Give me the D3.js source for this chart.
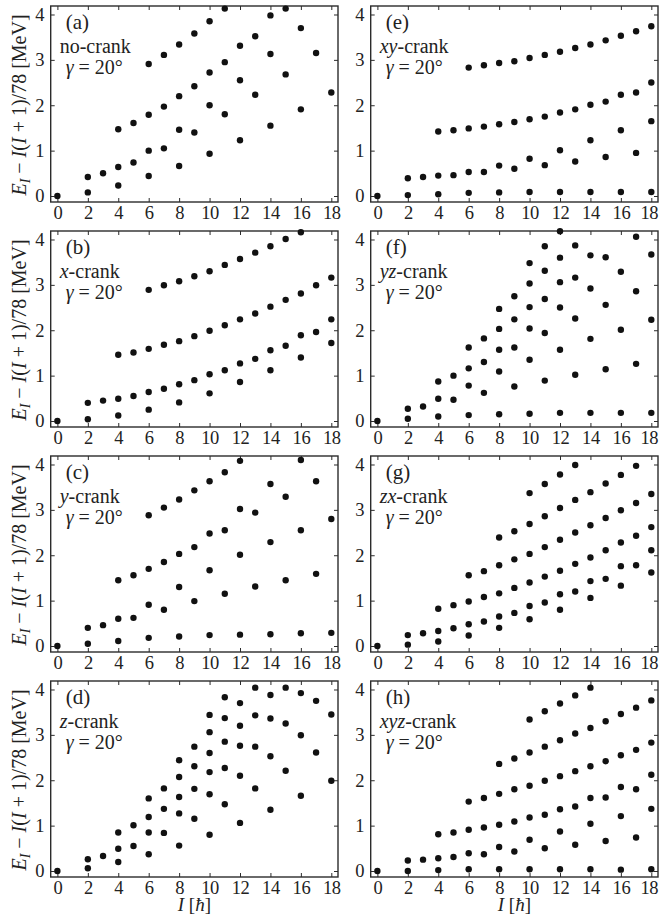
<!DOCTYPE html>
<html>
<head>
<meta charset="utf-8">
<script src="https://cdn.jsdelivr.net/npm/d3@7"></script>
<style>
  body { margin: 0; background: #fff; }
  svg text { font-family: "Liberation Serif", "Times New Roman", serif; fill: #222; }
</style>
</head>
<body>
<div id="chart"></div>
<script>
// Spin values I (there is no I = 1 state)
const spins = [0, 2, 3, 4, 5, 6, 7, 8, 9, 10, 11, 12, 13, 14, 15, 16, 17, 18];
const xTicks = [0, 2, 4, 6, 8, 10, 12, 14, 16, 18];
const yTicks = [0, 1, 2, 3, 4];

// Energies E_I - I(I+1)/78 [MeV], one list of levels per spin (same order as spins)
const noCrank = [[0], [0.42, 0.08], [0.50], [1.47, 0.64, 0.23], [1.61, 0.74],
  [2.91, 1.79, 1.00, 0.44], [3.11, 1.97, 1.05], [3.34, 2.20, 1.46, 0.66], [3.58, 2.42, 1.40],
  [3.85, 2.72, 2.00, 0.93], [4.13, 2.95, 1.80], [3.31, 2.55, 1.23], [3.52, 2.23],
  [3.98, 3.13, 1.55], [4.13, 2.68], [3.70, 1.91], [3.15], [2.28]];
const xCrank = [[0], [0.40, 0.04], [0.45], [1.46, 0.49, 0.12], [1.51, 0.55],
  [2.89, 1.59, 0.64, 0.25], [2.99, 1.68, 0.71], [3.08, 1.76, 0.81, 0.41], [3.19, 1.87, 0.90],
  [3.30, 1.99, 1.03, 0.61], [3.44, 2.11, 1.12], [3.57, 2.24, 1.27, 0.86], [3.71, 2.37, 1.37],
  [3.85, 2.52, 1.56, 1.12], [4.01, 2.67, 1.66], [4.16, 2.81, 1.89, 1.40], [2.99, 1.96],
  [3.16, 2.24, 1.72]];
const yCrank = [[0], [0.40, 0.05], [0.46], [1.45, 0.60, 0.11], [1.56, 0.62],
  [2.88, 1.70, 0.91, 0.18], [3.05, 1.85, 0.80], [3.23, 2.03, 1.30, 0.21], [3.43, 2.18, 0.99],
  [3.63, 2.48, 1.67, 0.24], [3.83, 2.55, 1.15], [4.08, 3.02, 2.01, 0.25], [2.94, 1.31],
  [3.57, 2.29, 0.26], [3.29, 1.45], [4.10, 2.55, 0.28], [3.63, 1.59], [2.80, 0.29]];
const zCrank = [[0], [0.26, 0.06], [0.33], [0.85, 0.49, 0.20], [1.01, 0.55],
  [1.60, 1.19, 0.85, 0.37], [1.82, 1.37, 0.84], [2.44, 2.07, 1.63, 1.27, 0.56],
  [2.74, 2.31, 1.81, 1.15], [3.44, 3.06, 2.60, 2.18, 1.69, 0.80], [3.83, 3.37, 2.85, 2.27, 1.47],
  [3.70, 3.20, 2.76, 2.10, 1.06], [4.04, 3.43, 2.74, 1.82], [3.88, 3.36, 2.53, 1.35],
  [4.04, 3.25, 2.21], [3.92, 2.99, 1.66], [3.75, 2.61], [3.45, 1.99]];
const xyCrank = [[0], [0.39, 0.02], [0.42], [1.42, 0.45, 0.04], [1.45, 0.46],
  [2.83, 1.49, 0.53, 0.07], [2.88, 1.53, 0.53], [2.93, 1.58, 0.67, 0.08], [2.97, 1.63, 0.60],
  [3.04, 1.69, 0.82, 0.09], [3.11, 1.75, 0.68], [3.18, 1.84, 1.01, 0.09], [3.26, 1.91, 0.76],
  [3.34, 2.01, 1.23, 0.09], [3.43, 2.08, 0.86], [3.53, 2.23, 1.45, 0.09], [3.63, 2.28, 0.95],
  [3.74, 2.50, 1.65, 0.09]];
const yzCrank = [[0], [0.27, 0.05], [0.32], [0.87, 0.49, 0.10], [1.00, 0.47],
  [1.62, 1.16, 0.78, 0.13], [1.82, 1.30, 0.62], [2.47, 2.03, 1.57, 1.09, 0.15],
  [2.75, 2.24, 1.62, 0.76], [3.48, 3.03, 2.51, 2.04, 1.35, 0.16], [3.85, 3.31, 2.69, 1.94, 0.89],
  [4.18, 3.60, 3.06, 2.50, 1.57, 0.18], [3.87, 3.16, 2.26, 1.02], [3.65, 2.92, 1.81, 0.18],
  [3.61, 2.56, 1.14], [3.29, 2.01, 0.18], [4.06, 2.86, 1.26], [3.67, 2.23, 0.18]];
const zxCrank = [[0], [0.24, 0.03], [0.28], [0.82, 0.33, 0.10], [0.90, 0.39],
  [1.56, 0.98, 0.48, 0.23], [1.65, 1.08, 0.54], [2.39, 1.78, 1.16, 0.65, 0.40],
  [2.53, 1.91, 1.28, 0.73], [3.37, 2.69, 2.03, 1.40, 0.88, 0.59], [3.57, 2.86, 2.18, 1.53, 0.96],
  [3.78, 3.04, 2.34, 1.66, 1.14, 0.80], [3.99, 3.22, 2.50, 1.81, 1.20],
  [3.39, 2.66, 1.95, 1.43, 1.06], [3.58, 2.82, 2.11, 1.48], [3.77, 2.99, 2.28, 1.76, 1.33],
  [3.97, 3.15, 2.43, 1.78], [3.35, 2.62, 2.11, 1.62]];
const xyzCrank = [[0], [0.23, 0.00], [0.25], [0.81, 0.28, 0.02], [0.85, 0.31],
  [1.53, 0.91, 0.39, 0.04], [1.61, 0.96, 0.37], [2.36, 1.70, 1.02, 0.53, 0.04],
  [2.48, 1.80, 1.09, 0.43], [3.34, 2.61, 1.88, 1.18, 0.69, 0.04], [3.52, 2.74, 1.99, 1.24, 0.50],
  [3.69, 2.88, 2.09, 1.36, 0.87, 0.04], [3.87, 3.03, 2.20, 1.42, 0.58],
  [4.04, 3.15, 2.31, 1.61, 1.04, 0.04], [3.30, 2.42, 1.62, 0.66], [3.46, 2.55, 1.85, 1.21, 0.03],
  [3.60, 2.67, 1.80, 0.74], [3.76, 2.83, 2.12, 1.37, 0.04]];

const panelLetters = ["a", "b", "c", "d", "e", "f", "g", "h"];
const crankAxes = ["", "x", "y", "z", "xy", "yz", "zx", "xyz"];
const panelData = [noCrank, xCrank, yCrank, zCrank, xyCrank, yzCrank, zxCrank, xyzCrank];
const gammaDeg = 20;

//******************************************************************************************** */
// Layout
const width = 659;
const height = 920;
const panelW = 287.3;
const panelH = 196;
const colLeft = [50.7, 370.7];
const rowTop = [6, 231, 456, 681];

const svg = d3.select("#chart")
  .append("svg")
  .attr("width", width)
  .attr("height", height);

const x = d3.scaleLinear().domain([-0.44, 18.44]).range([0, panelW]);
const y = d3.scaleLinear().domain([-0.132, 4.187]).range([panelH, 0]);

const ink = "#2b2b2b";
const intFmt = d3.format("d");

panelData.forEach((levels, i) => {
  const col = i < 4 ? 0 : 1;
  const row = i % 4;
  const g = svg.append("g")
    .attr("transform", `translate(${colLeft[col]},${rowTop[row]})`);

  // inward ticks, labels on bottom and left only
  const bottom = g.append("g")
    .attr("transform", `translate(0,${panelH})`)
    .call(d3.axisBottom(x).tickValues(xTicks).tickFormat(intFmt)
      .tickSizeInner(-4).tickSizeOuter(0).tickPadding(4));
  const left = g.append("g")
    .call(d3.axisLeft(y).tickValues(yTicks).tickFormat(intFmt)
      .tickSizeInner(-4).tickSizeOuter(0).tickPadding(6.5));
  const top = g.append("g")
    .call(d3.axisTop(x).tickValues(xTicks).tickSizeInner(-4).tickSizeOuter(0).tickFormat(""));
  const right = g.append("g")
    .attr("transform", `translate(${panelW},0)`)
    .call(d3.axisRight(y).tickValues(yTicks).tickSizeInner(-4).tickSizeOuter(0).tickFormat(""));

  [bottom, left, top, right].forEach((a) => {
    a.select(".domain").remove();
    a.selectAll("line").attr("stroke", ink).attr("stroke-width", 1);
    a.selectAll("text")
      .style("font-family", '"Liberation Serif", serif')
      .style("font-size", "18.5px")
      .style("letter-spacing", "-0.4px")
      .attr("fill", "#222");
  });

  // the last label of the right column sits against the page edge
  if (col === 1) {
    bottom.selectAll(".tick text").filter((d) => d === 18).attr("dx", -2.5);
  }

  // frame
  g.append("rect")
    .attr("width", panelW)
    .attr("height", panelH)
    .attr("fill", "none")
    .attr("stroke", ink)
    .attr("stroke-width", 1.4);

  // points
  const points = [];
  spins.forEach((s, k) => levels[k].forEach((e) => points.push([s, e])));
  g.append("g")
    .selectAll("circle")
    .data(points)
    .enter()
    .append("circle")
    .attr("cx", (d) => x(d[0]))
    .attr("cy", (d) => y(d[1]))
    .attr("r", 3.2)
    .attr("fill", "#111");

  // panel labels
  g.append("text")
    .attr("x", 15)
    .attr("y", 23)
    .style("font-size", "21px")
    .text(`(${panelLetters[i]})`);

  const crank = g.append("text")
    .attr("x", 9)
    .attr("y", 46.5)
    .style("font-size", "20px");
  if (crankAxes[i] === "") {
    crank.text("no-crank");
  } else {
    crank.append("tspan").style("font-style", "italic").text(crankAxes[i]);
    crank.append("tspan").text("-crank");
  }

  const gam = g.append("text")
    .attr("x", 15)
    .attr("y", 68)
    .style("font-size", "20px");
  gam.append("tspan").style("font-style", "italic").text("γ");
  gam.append("tspan").text(` = ${gammaDeg}°`);

  // y-axis title on the left column
  if (col === 0) {
    const yl = g.append("text")
      .attr("transform", `translate(${25.5 - colLeft[0]},${panelH / 2 + 1}) rotate(-90)`)
      .attr("text-anchor", "middle")
      .style("font-size", "20px");
    yl.append("tspan").style("font-style", "italic").text("E");
    yl.append("tspan").style("font-style", "italic").style("font-size", "14px").attr("dy", 4).text("I");
    yl.append("tspan").attr("dy", -4).text(" − ");
    yl.append("tspan").style("font-style", "italic").text("I");
    yl.append("tspan").text("(");
    yl.append("tspan").style("font-style", "italic").text("I");
    yl.append("tspan").text(" + 1)/78 [MeV]");
  }

  // x-axis title on the bottom row
  if (row === 3) {
    const xl = g.append("text")
      .attr("x", panelW / 2)
      .attr("y", panelH + 34)
      .attr("text-anchor", "middle")
      .style("font-size", "19px");
    xl.append("tspan").style("font-style", "italic").text("I");
    xl.append("tspan").text(" [");
    xl.append("tspan").style("font-style", "italic").text("ħ");
    xl.append("tspan").text("]");
  }
});
</script>
</body>
</html>
